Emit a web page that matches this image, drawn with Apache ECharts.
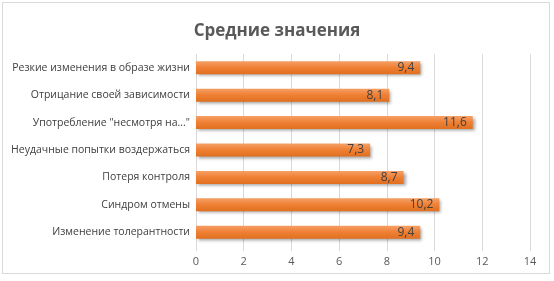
<!DOCTYPE html>
<html><head><meta charset="utf-8">
<script src="https://cdn.jsdelivr.net/npm/echarts@6/dist/echarts.min.js"></script>
<style>html,body{margin:0;padding:0;background:#fff}#c{width:554px;height:281px;position:relative}
#b{position:absolute;left:2px;top:2px;width:548px;height:272px;border:1px solid #d9d9d9;box-sizing:border-box;pointer-events:none}</style>
</head><body><div id="c"></div>
<script>
var title = "Средние значения";
var categories = ["Изменение толерантности","Синдром отмены","Потеря контроля","Неудачные попытки воздержаться","Употребление \"несмотря на...\"","Отрицание своей зависимости","Резкие изменения в образе жизни"];
var values = [9.4, 10.2, 8.7, 7.3, 11.6, 8.1, 9.4];
var xTicks = [0, 2, 4, 6, 8, 10, 12, 14];

var chart = echarts.init(document.getElementById('c'));
chart.setOption({
  animation: false,
  backgroundColor: '#fff',
  title: {text: title, left: 'center', top: 18, textStyle: {fontFamily: 'Open Sans', fontSize: 17, fontWeight: 'bold', color: '#595959'}},
  grid: {left: 196, right: 24, top: 54, bottom: 35},
  xAxis: {type: 'value', min: xTicks[0], max: xTicks[xTicks.length-1], interval: 2,
    axisLine: {show: false},
    axisTick: {show: true, length: 5, lineStyle: {color: '#d9d9d9'}},
    splitLine: {lineStyle: {color: '#d9d9d9'}},
    axisLabel: {color: '#595959', fontFamily: 'Open Sans', fontSize: 11, margin: 10}},
  yAxis: {type: 'category', data: categories,
    axisLine: {show: false}, axisTick: {show: false},
    axisLabel: {color: '#404040', fontFamily: 'Open Sans', fontSize: 10.5, margin: 6}},
  series: [{type: 'bar', data: values, barWidth: 13,
    itemStyle: {color: new echarts.graphic.LinearGradient(0,0,0,1,[{offset:0,color:'#F5A066'},{offset:0.5,color:'#EF7F33'},{offset:1,color:'#E0701F'}]),
      shadowColor: 'rgba(0,0,0,0.35)', shadowBlur: 3, shadowOffsetX: 2, shadowOffsetY: 2},
    label: {show: true, position: 'insideRight', distance: 6, color: '#404040', fontFamily: 'Open Sans', fontSize: 12,
      formatter: function(p){return String(p.value).replace('.', ',');}}}]
});
</script>
<div id="b"></div>
</body></html>
